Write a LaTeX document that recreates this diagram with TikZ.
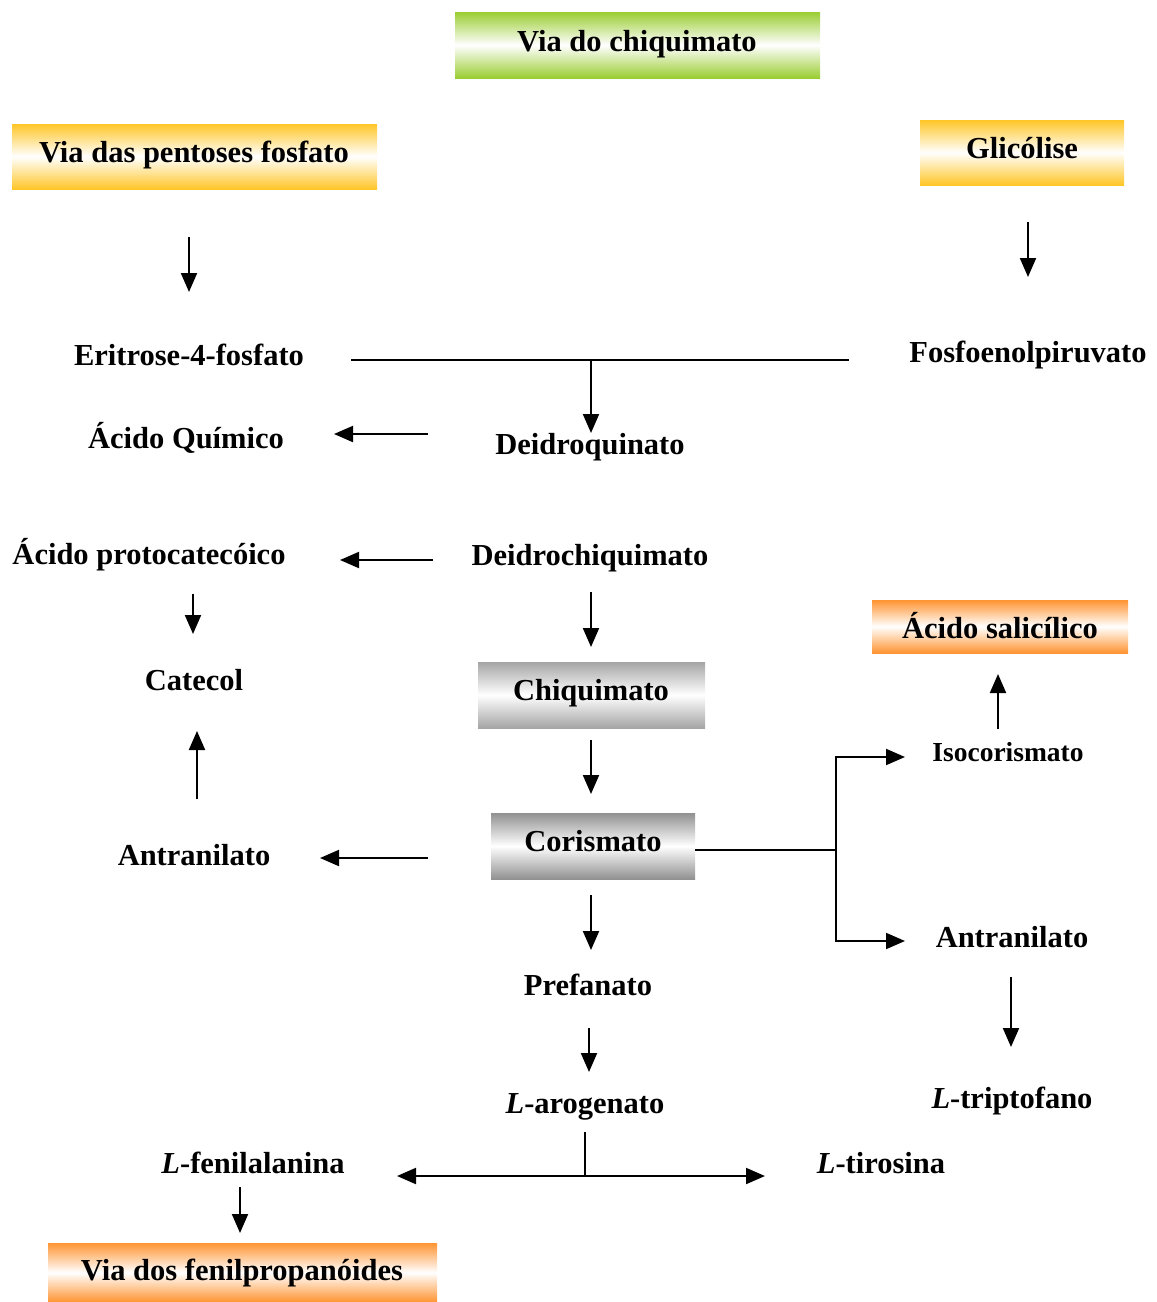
\documentclass[tikz,border=0pt]{standalone}
\usepackage{fontspec}
\setmainfont{Liberation Serif}
\usetikzlibrary{arrows.meta}
\definecolor{cgreen}{RGB}{154,205,50}
\definecolor{cyellow}{RGB}{255,198,40}
\definecolor{corange}{RGB}{255,148,50}
\definecolor{cgrey}{RGB}{165,165,165}
\definecolor{cdgrey}{RGB}{145,145,145}
\tikzset{
  lbl/.style={anchor=base, inner sep=0pt, font=\fontsize{30.5}{36}\selectfont\bfseries},
  slbl/.style={anchor=base, inner sep=0pt, font=\fontsize{27.5}{33}\selectfont\bfseries},
  conn/.style={line width=2pt},
  arr/.style={line width=2pt, -{Triangle[length=19pt,width=16pt]}},
  darr/.style={line width=2pt, {Triangle[length=19pt,width=16pt]}-{Triangle[length=19pt,width=16pt]}},
}
\begin{document}
\begin{tikzpicture}[x=1pt,y=-1pt]
\useasboundingbox (0,0) rectangle (1157,1302);
% shaded boxes
\shade[top color=cgreen, bottom color=cgreen, middle color=white] (455,12) rectangle (820,78);
\shade[top color=cyellow, bottom color=cyellow, middle color=white] (12,124) rectangle (377,189);
\shade[top color=cyellow, bottom color=cyellow, middle color=white] (920,120) rectangle (1124,185);
\shade[top color=corange, bottom color=corange, middle color=white] (872,600) rectangle (1128,653);
\shade[top color=cgrey, bottom color=cgrey, middle color=white] (478,662) rectangle (705,728);
\shade[top color=cdgrey, bottom color=cdgrey, middle color=white] (491,813) rectangle (695,879);
\shade[top color=corange, bottom color=corange, middle color=white] (48,1243) rectangle (437,1302);

% texts
\node[lbl] (chiq) at (637,51) {Via do chiquimato};
\node[lbl] (pent) at (194,162) {Via das pentoses fosfato};
\node[lbl] (glic) at (1022,158) {Glicólise};
\node[lbl] (erit) at (189,365) {Eritrose-4-fosfato};
\node[lbl] (fosf) at (1028,362) {Fosfoenolpiruvato};
\node[lbl] (quin) at (186,448) {Ácido Químico};
\node[lbl] (deq) at (590,454) {Deidroquinato};
\node[lbl] (prot) at (149,564) {Ácido protocatecóico};
\node[lbl] (dech) at (590,565) {Deidrochiquimato};
\node[lbl] (cate) at (194,690) {Catecol};
\node[lbl] (sali) at (1000,638) {Ácido salicílico};
\node[lbl] (chim) at (591,700) {Chiquimato};
\node[slbl] (isoc) at (1008,761) {Isocorismato};
\node[lbl] (cori) at (593,851) {Corismato};
\node[lbl] (antl) at (194,865) {Antranilato};
\node[lbl] (antr) at (1012,947) {Antranilato};
\node[lbl] (pref) at (588,995) {Prefanato};
\node[lbl] (arog) at (585,1113) {\textit{L}-arogenato};
\node[lbl] (trip) at (1012,1108) {\textit{L}-triptofano};
\node[lbl] (feni) at (253,1173) {\textit{L}-fenilalanina};
\node[lbl] (tiro) at (881,1173) {\textit{L}-tirosina};
\node[lbl] (fenp) at (242,1280) {Via dos fenilpropanóides};

% connector coordinates
\coordinate (a1s) at (189,237); \coordinate (a1e) at (189,292);
\coordinate (a2s) at (1028,222); \coordinate (a2e) at (1028,277);
\coordinate (hL) at (351,360); \coordinate (hR) at (849,360); \coordinate (hM) at (591,360);
\coordinate (a3e) at (591,433);
\coordinate (a4s) at (428,434); \coordinate (a4e) at (334,434);
\coordinate (a5s) at (433,560); \coordinate (a5e) at (340,560);
\coordinate (a6s) at (193,594); \coordinate (a6e) at (193,634);
\coordinate (a7s) at (197,799); \coordinate (a7e) at (197,731);
\coordinate (a8s) at (428,858); \coordinate (a8e) at (320,858);
\coordinate (a9s) at (591,592); \coordinate (a9e) at (591,647);
\coordinate (a10s) at (591,740); \coordinate (a10e) at (591,794);
\coordinate (bS) at (695,850); \coordinate (bM) at (836,850);
\coordinate (bT) at (836,757); \coordinate (bB) at (836,941);
\coordinate (bTe) at (905,757); \coordinate (bBe) at (905,941);
\coordinate (a11s) at (998,729); \coordinate (a11e) at (998,674);
\coordinate (a12s) at (1011,977); \coordinate (a12e) at (1011,1047);
\coordinate (a13s) at (591,895); \coordinate (a13e) at (591,950);
\coordinate (a14s) at (589,1028); \coordinate (a14e) at (589,1072);
\coordinate (cT) at (585,1132); \coordinate (cM) at (585,1176);
\coordinate (cL) at (397,1176); \coordinate (cR) at (765,1176);
\coordinate (a15s) at (240,1187); \coordinate (a15e) at (240,1233);

\draw[arr] (a1s) -- (a1e);
\draw[arr] (a2s) -- (a2e);
\draw[conn] (hL) -- (hR);
\draw[arr] (hM) -- (a3e);
\draw[arr] (a4s) -- (a4e);
\draw[arr] (a5s) -- (a5e);
\draw[arr] (a6s) -- (a6e);
\draw[arr] (a7s) -- (a7e);
\draw[arr] (a8s) -- (a8e);
\draw[arr] (a9s) -- (a9e);
\draw[arr] (a10s) -- (a10e);
\draw[conn] (bS) -- (bM);
\draw[arr] (bM) -- (bT) -- (bTe);
\draw[arr] (bM) -- (bB) -- (bBe);
\draw[arr] (a11s) -- (a11e);
\draw[arr] (a12s) -- (a12e);
\draw[arr] (a13s) -- (a13e);
\draw[arr] (a14s) -- (a14e);
\draw[conn] (cT) -- (cM);
\draw[darr] (cL) -- (cR);
\draw[arr] (a15s) -- (a15e);
\end{tikzpicture}
\end{document}
